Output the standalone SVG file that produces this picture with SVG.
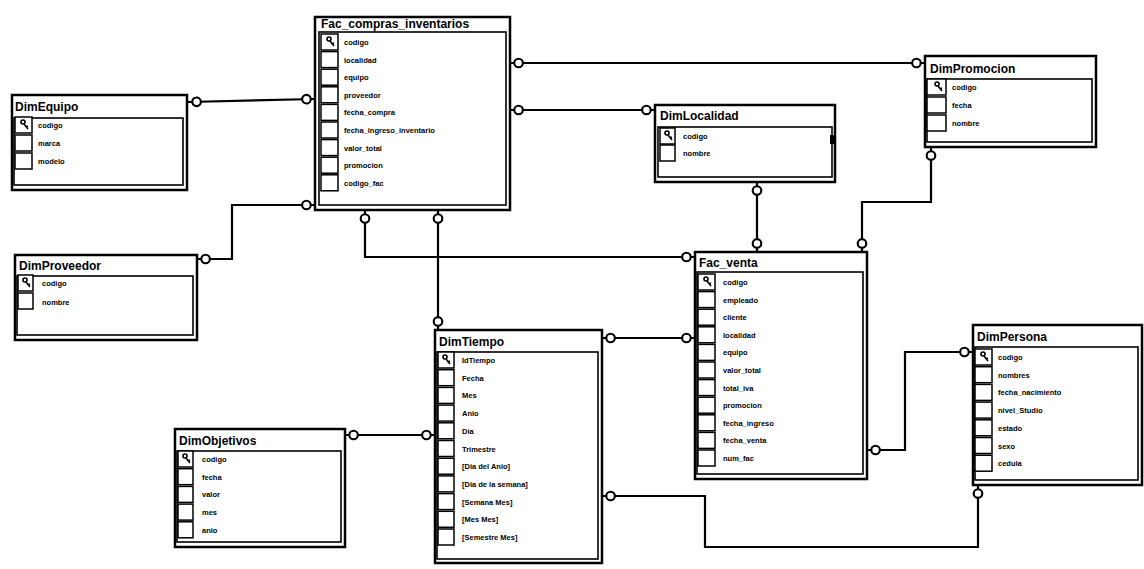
<svg xmlns="http://www.w3.org/2000/svg" width="1144" height="569" viewBox="0 0 1144 569">
<defs>
<style>
.box{fill:#fff;stroke:#000;stroke-width:2.5}
.list{fill:#fff;stroke:#000;stroke-width:1.6}
.key{fill:#fff;stroke:#000;stroke-width:1.5}
.sep{stroke:#000;stroke-width:1.5}
.title{font-family:"Liberation Sans",Arial,sans-serif;font-size:12px;font-weight:bold;fill:#000}
.f{font-family:"Liberation Sans",Arial,sans-serif;font-size:7.5px;font-weight:bold;fill:#000}
.con{fill:none;stroke:#000;stroke-width:2.2;marker-start:url(#ring);marker-end:url(#ring)}
.kg{fill:none;stroke:#000;stroke-width:1.6}
</style>
<marker id="ring" markerUnits="userSpaceOnUse" markerWidth="20" markerHeight="20" viewBox="-12 -6 14 12" refX="0" refY="0" orient="auto-start-reverse">
<circle cx="-6" cy="0" r="3" fill="#fff" stroke="#000" stroke-width="1.5"/>
</marker>
<g id="keyicon"><circle cx="-3" cy="-3" r="2" class="kg"/><path d="M-2 -1 L2 4 M0 2 L2 1" class="kg"/></g>
</defs>

<g id="connectors">
<path class="con" d="M188,102 L315,99"/>
<path class="con" d="M197,259 L232,259 L232,205 L315,205"/>
<path class="con" d="M510,110 L655,110"/>
<path class="con" d="M510,63 L925,63"/>
<path class="con" d="M365,210 L365,257 L695,257"/>
<path class="con" d="M438,210 L438,330"/>
<path class="con" d="M757,182 L757,252"/>
<path class="con" d="M931,147 L931,202 L862,202 L862,252"/>
<path class="con" d="M695,338 L602,338"/>
<path class="con" d="M867,450 L905,450 L905,352 L973,352"/>
<path class="con" d="M345,435 L435,435"/>
<path class="con" d="M602,496 L705,496 L705,547 L978,547 L978,485"/>
</g>

<g id="Fac_compras_inventarios" transform="translate(315,17)">
<rect class="box" x="0" y="0" width="195" height="193"/>
<text class="title" x="6" y="11">Fac_compras_inventarios</text>
<rect class="list" x="4" y="15" width="187" height="173"/>
<rect class="key" x="6" y="17" width="17" height="16"/>
<rect class="key" x="6" y="34.6" width="17" height="16"/>
<rect class="key" x="6" y="52.2" width="17" height="16"/>
<rect class="key" x="6" y="69.8" width="17" height="16"/>
<rect class="key" x="6" y="87.4" width="17" height="16"/>
<rect class="key" x="6" y="105" width="17" height="16"/>
<rect class="key" x="6" y="122.6" width="17" height="16"/>
<rect class="key" x="6" y="140.2" width="17" height="16"/>
<rect class="key" x="6" y="157.8" width="17" height="16"/>
<use href="#keyicon" x="17" y="25"/>
<text class="f" x="29" y="28">codigo</text>
<text class="f" x="29" y="45.6">localidad</text>
<text class="f" x="29" y="63.2">equipo</text>
<text class="f" x="29" y="80.8">proveedor</text>
<text class="f" x="29" y="98.4">fecha_compra</text>
<text class="f" x="29" y="116">fecha_ingreso_inventario</text>
<text class="f" x="29" y="133.6">valor_total</text>
<text class="f" x="29" y="151.2">promocion</text>
<text class="f" x="29" y="168.8">codigo_fac</text>
</g>

<g id="DimEquipo" transform="translate(12,95)">
<rect class="box" x="0" y="0" width="175" height="95"/>
<text class="title" x="3" y="16">DimEquipo</text>
<rect class="list" x="2" y="23" width="169" height="67"/>
<rect class="key" x="3" y="22" width="17" height="16"/>
<rect class="key" x="3" y="40" width="17" height="16"/>
<rect class="key" x="3" y="58" width="17" height="16"/>
<use href="#keyicon" x="14" y="30"/>
<text class="f" x="26" y="33">codigo</text>
<text class="f" x="26" y="51">marca</text>
<text class="f" x="26" y="69">modelo</text>
</g>

<g id="DimProveedor" transform="translate(15,255)">
<rect class="box" x="0" y="0" width="182" height="85"/>
<text class="title" x="4" y="15">DimProveedor</text>
<rect class="list" x="2" y="21" width="176" height="59"/>
<rect class="key" x="3" y="20" width="15" height="16"/>
<rect class="key" x="3" y="38" width="15" height="16"/>
<use href="#keyicon" x="13" y="28"/>
<text class="f" x="27" y="31">codigo</text>
<text class="f" x="27" y="50">nombre</text>
</g>

<g id="DimLocalidad" transform="translate(655,105)">
<rect class="box" x="0" y="0" width="180" height="77"/>
<text class="title" x="5" y="15">DimLocalidad</text>
<rect class="list" x="3" y="22" width="174" height="50"/>
<rect class="key" x="5" y="23" width="15" height="16"/>
<rect class="key" x="5" y="40" width="15" height="16"/>
<use href="#keyicon" x="15" y="31"/>
<text class="f" x="28" y="34">codigo</text>
<text class="f" x="28" y="51">nombre</text>
<rect x="175" y="30" width="4" height="9" fill="#000"/>
</g>

<g id="DimPromocion" transform="translate(925,56)">
<rect class="box" x="0" y="0" width="171" height="91"/>
<text class="title" x="5" y="17">DimPromocion</text>
<rect class="list" x="2" y="23" width="165" height="63"/>
<rect class="key" x="2" y="23" width="19" height="16"/>
<rect class="key" x="2" y="41" width="19" height="16"/>
<rect class="key" x="2" y="59" width="19" height="16"/>
<use href="#keyicon" x="15" y="31"/>
<text class="f" x="27" y="34">codigo</text>
<text class="f" x="27" y="52">fecha</text>
<text class="f" x="27" y="70">nombre</text>
</g>

<g id="Fac_venta" transform="translate(695,252)">
<rect class="box" x="0" y="0" width="172" height="227"/>
<text class="title" x="4" y="15">Fac_venta</text>
<rect class="list" x="2" y="20" width="166" height="202"/>
<rect class="key" x="3" y="22" width="17" height="16"/>
<rect class="key" x="3" y="39.6" width="17" height="16"/>
<rect class="key" x="3" y="57.2" width="17" height="16"/>
<rect class="key" x="3" y="74.8" width="17" height="16"/>
<rect class="key" x="3" y="92.4" width="17" height="16"/>
<rect class="key" x="3" y="110" width="17" height="16"/>
<rect class="key" x="3" y="127.6" width="17" height="16"/>
<rect class="key" x="3" y="145.2" width="17" height="16"/>
<rect class="key" x="3" y="162.8" width="17" height="16"/>
<rect class="key" x="3" y="180.4" width="17" height="16"/>
<rect class="key" x="3" y="198" width="17" height="16"/>
<use href="#keyicon" x="14" y="30"/>
<text class="f" x="28" y="33">codigo</text>
<text class="f" x="28" y="50.6">empleado</text>
<text class="f" x="28" y="68.2">cliente</text>
<text class="f" x="28" y="85.8">localidad</text>
<text class="f" x="28" y="103.4">equipo</text>
<text class="f" x="28" y="121">valor_total</text>
<text class="f" x="28" y="138.6">total_iva</text>
<text class="f" x="28" y="156.2">promocion</text>
<text class="f" x="28" y="173.8">fecha_ingreso</text>
<text class="f" x="28" y="191.4">fecha_venta</text>
<text class="f" x="28" y="209">num_fac</text>
</g>

<g id="DimTiempo" transform="translate(435,330)">
<rect class="box" x="0" y="0" width="167" height="233"/>
<text class="title" x="4" y="16">DimTiempo</text>
<rect class="list" x="2" y="22" width="161" height="207"/>
<rect class="key" x="3" y="22" width="16" height="16"/>
<rect class="key" x="3" y="39.7" width="16" height="16"/>
<rect class="key" x="3" y="57.4" width="16" height="16"/>
<rect class="key" x="3" y="75.1" width="16" height="16"/>
<rect class="key" x="3" y="92.8" width="16" height="16"/>
<rect class="key" x="3" y="110.5" width="16" height="16"/>
<rect class="key" x="3" y="128.2" width="16" height="16"/>
<rect class="key" x="3" y="145.9" width="16" height="16"/>
<rect class="key" x="3" y="163.6" width="16" height="16"/>
<rect class="key" x="3" y="181.3" width="16" height="16"/>
<rect class="key" x="3" y="199" width="16" height="16"/>
<use href="#keyicon" x="13" y="30"/>
<text class="f" x="27" y="33">IdTiempo</text>
<text class="f" x="27" y="50.7">Fecha</text>
<text class="f" x="27" y="68.4">Mes</text>
<text class="f" x="27" y="86.1">Anio</text>
<text class="f" x="27" y="103.8">Dia</text>
<text class="f" x="27" y="121.5">Trimestre</text>
<text class="f" x="27" y="139.2">[Dia del Anio]</text>
<text class="f" x="27" y="156.9">[Dia de la semana]</text>
<text class="f" x="27" y="174.6">[Semana Mes]</text>
<text class="f" x="27" y="192.3">[Mes Mes]</text>
<text class="f" x="27" y="210">[Semestre Mes]</text>
</g>

<g id="DimObjetivos" transform="translate(175,429)">
<rect class="box" x="0" y="0" width="170" height="118"/>
<text class="title" x="4" y="16">DimObjetivos</text>
<rect class="list" x="2" y="22" width="164" height="91"/>
<rect class="key" x="3" y="22" width="15" height="16"/>
<rect class="key" x="3" y="39.7" width="15" height="16"/>
<rect class="key" x="3" y="57.4" width="15" height="16"/>
<rect class="key" x="3" y="75.1" width="15" height="16"/>
<rect class="key" x="3" y="92.8" width="15" height="16"/>
<use href="#keyicon" x="13" y="30"/>
<text class="f" x="27" y="33">codigo</text>
<text class="f" x="27" y="50.7">fecha</text>
<text class="f" x="27" y="68.4">valor</text>
<text class="f" x="27" y="86.1">mes</text>
<text class="f" x="27" y="103.8">anio</text>
</g>

<g id="DimPersona" transform="translate(973,325)">
<rect class="box" x="0" y="0" width="169" height="160"/>
<text class="title" x="4" y="16">DimPersona</text>
<rect class="list" x="2" y="22" width="163" height="133"/>
<rect class="key" x="2" y="24" width="17" height="16"/>
<rect class="key" x="2" y="41.7" width="17" height="16"/>
<rect class="key" x="2" y="59.4" width="17" height="16"/>
<rect class="key" x="2" y="77.1" width="17" height="16"/>
<rect class="key" x="2" y="94.8" width="17" height="16"/>
<rect class="key" x="2" y="112.5" width="17" height="16"/>
<rect class="key" x="2" y="130.2" width="17" height="16"/>
<use href="#keyicon" x="13" y="32"/>
<text class="f" x="25" y="35">codigo</text>
<text class="f" x="25" y="52.7">nombres</text>
<text class="f" x="25" y="70.4">fecha_nacimiento</text>
<text class="f" x="25" y="88.1">nivel_Studio</text>
<text class="f" x="25" y="105.8">estado</text>
<text class="f" x="25" y="123.5">sexo</text>
<text class="f" x="25" y="141.2">cedula</text>
</g>
</svg>
